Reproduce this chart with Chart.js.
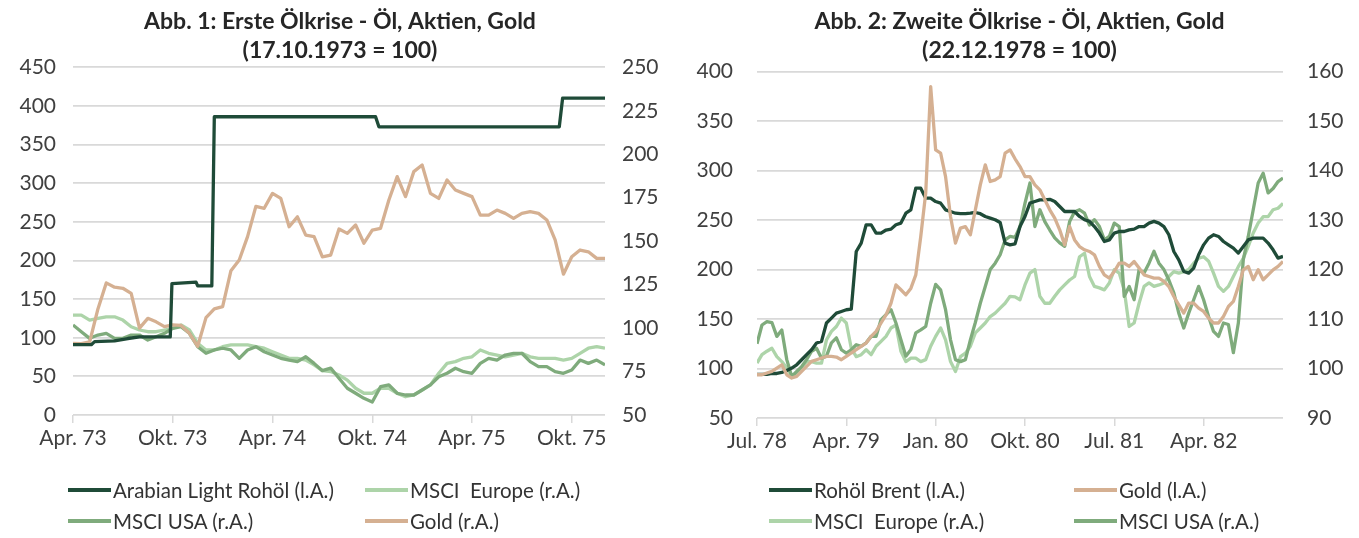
<!DOCTYPE html>
<html><head><meta charset="utf-8">
<script src="https://cdn.jsdelivr.net/npm/chart.js@4.4.1/dist/chart.umd.min.js"></script>
<style>
html,body{margin:0;padding:0;background:#fff;}
#wrap{position:relative;width:1359px;height:538px;overflow:hidden;font-family:Lato,'Noto Sans',sans-serif;}
.cbox{position:absolute;top:0;height:538px;}
.li{position:absolute;display:flex;align-items:center;white-space:nowrap;font-size:20.5px;color:#333;transform:translateY(-50%);}
.sw{display:inline-block;width:43px;height:4px;margin-right:2px;}
</style></head>
<body><div id="wrap">
<div class="cbox" style="left:0;width:680px"><canvas id="c1" width="680" height="538"></canvas></div>
<div class="cbox" style="left:680px;width:679px"><canvas id="c2" width="679" height="538"></canvas></div>
<div id="lg"></div>
</div>
<script>
// ---------- Chart 1: Erste Ölkrise (x = months since 1 Apr 1973) ----------
const title1 = ['Abb. 1: Erste Ölkrise - Öl, Aktien, Gold', '(17.10.1973 = 100)'];
const xTickPos1 = [0, 6, 12, 18, 24, 30];
const xTickLabels1 = ['Apr. 73', 'Okt. 73', 'Apr. 74', 'Okt. 74', 'Apr. 75', 'Okt. 75'];
const oilDates1 = [0, 1.1, 1.3, 2.5, 3.3, 4.0, 5.85, 5.95, 7.4, 7.5, 8.35, 8.5, 18.2, 18.4, 29.25, 29.45, 32];
const oil1 = [91, 91, 95, 96, 99, 101, 101, 170, 172, 167, 167, 386, 386, 373, 373, 410, 410];
const gold1 = [
  91.2, 91, 92, 111, 126, 123.5, 122.9, 120, 100, 105.6,
  103.6, 100.8, 101.8, 101.5, 97, 89.5, 106, 111, 112.3, 133,
  139.2, 152.6, 170, 168.9, 177.5, 174.6, 158.3, 164, 153.5, 152.6,
  141, 142, 157, 154.5, 159.3, 148.8, 156.4, 157.4, 173.7, 187.1,
  175.6, 190, 193.8, 177.5, 174.6, 185.2, 179.4, 177.5, 175.6, 165,
  165, 167.9, 166, 163.1, 166, 167, 166, 162.2, 150.7, 131,
  141, 144.9, 143.9, 140.1, 140.1];
const europe1 = [
  107.5, 107.5, 104.6, 105.6, 106.5, 106.5, 104.6, 100.8, 98.9, 97.9,
  97.9, 98.9, 99.9, 101.8, 98.9, 91.2, 87.4, 87.4, 89.3, 90.3,
  90.3, 90.3, 89.3, 88.4, 86.4, 84.5, 82.6, 82.6, 81.6, 78.8,
  75.5, 75, 73, 70.1, 65.4, 62.5, 62.5, 65.4, 65.4, 62.5,
  60.5, 61.5, 64.4, 67.3, 74, 79.7, 80.7, 82.6, 83.5, 87.4,
  85.5, 84.5, 83.5, 84.5, 85.5, 83.5, 82.6, 82.6, 82.6, 81.6,
  82.6, 85.5, 88.4, 89.3, 88.4];
const usa1 = [
  101.8, 97.9, 94.1, 96, 97, 94.1, 94.1, 96, 96, 93.1,
  95, 97, 99.9, 100.8, 97, 89.3, 85.5, 87.4, 88.4, 87.4,
  82.6, 87.4, 89.3, 86.4, 84.5, 82.6, 81.6, 80.7, 83.5, 79.7,
  75.5, 77, 71.1, 65.4, 62.5, 59.6, 57.5, 66.3, 67.3, 62.5,
  61.5, 61.5, 64.4, 67.3, 72, 74, 76.9, 74.9, 74, 79.7,
  82.6, 81.6, 84.5, 85.5, 85.5, 80.7, 77.8, 77.8, 74.9, 74,
  75.9, 81.6, 79.7, 81.6, 78.8];
const months1 = gold1.map((_, i) => i * 0.5);   // half-month observation grid

// ---------- Chart 2: Zweite Ölkrise (x = months since 1 Jul 1978) ----------
const title2 = ['Abb. 2: Zweite Ölkrise - Öl, Aktien, Gold', '(22.12.1978 = 100)'];
const xTickPos2 = [0, 9, 18, 27, 36, 45];
const xTickLabels2 = ['Jul. 78', 'Apr. 79', 'Jan. 80', 'Okt. 80', 'Jul. 81', 'Apr. 82'];
const brent2 = [
  94, 94, 94, 95, 95, 96, 98, 100.5, 103.8, 108.9,
  114, 119, 125.8, 127.4, 146, 151, 156, 157.7, 159.4, 160,
  218.3, 226.8, 245.3, 245.3, 236.9, 236.9, 240, 240.9, 245.3, 247,
  257, 260.4, 282.3, 282.3, 272.2, 272.2, 268.8, 267.2, 260.4, 258.7,
  257, 256.5, 256.5, 257, 257.7, 256.5, 253.7, 252, 250.4, 247.6,
  226.8, 225, 226, 243.5, 253.7, 267.2, 268.8, 270.5, 270.5, 271,
  268.8, 263.8, 258.7, 258.7, 258.7, 253.7, 250.4, 248.7, 243.5, 236.9,
  228.4, 230, 236.9, 238.5, 238.5, 240.2, 240.9, 243.5, 243.5, 247,
  248.7, 247, 243.5, 235.2, 218.3, 209.9, 198.1, 196.4, 201.5, 215,
  225, 231.8, 235.2, 233.5, 228.4, 225, 221.7, 216.7, 223.3, 230,
  231.8, 231.8, 231.8, 226.8, 220, 211.6, 213.3];
const gold2 = [
  93.7, 93.7, 95.5, 97.1, 100.5, 103.8, 93.7, 90.4, 92, 97.1,
  102.1, 107.2, 108.9, 110.6, 112.2, 112.2, 111.6, 108.9, 112.2, 115.7,
  119, 122.4, 125.8, 132.5, 137.5, 146, 154.3, 166, 184.6, 179.6,
  174.5, 181, 194.7, 233.4, 277.3, 385, 321, 317.7, 294, 253.7,
  226.8, 241.9, 243.5, 235.2, 260.4, 285.7, 305.9, 289, 290.7, 294,
  317.7, 321, 312, 304.1, 294, 294, 285.7, 280.6, 270.5, 260.4,
  252, 240.2, 225, 243.5, 230, 223.3, 220, 218.3, 215, 203.2,
  194.7, 191.4, 198.1, 206.6, 206.6, 203.2, 208.2, 201.5, 194.7, 193,
  191.4, 191.4, 188, 182.9, 172.8, 164.4, 156, 166.2, 166.2, 161.1,
  157.7, 151, 146, 146, 152.7, 162.7, 167.8, 182.9, 199.8, 203.2,
  189.7, 199.8, 189.7, 194.7, 199.8, 203.2, 208.2];
const europe2 = [
  101.1, 102.8, 103.5, 104.1, 102.4, 101.4, 100.1, 98.4, 99.1, 100.1,
  101.4, 101.4, 101.1, 101.1, 105.8, 107.5, 108.5, 110.2, 109.2, 104.1,
  102.4, 102.8, 103.8, 102.8, 104.5, 105.5, 106.5, 108.2, 108.8, 103.5,
  101.4, 102.1, 102.1, 101.4, 101.8, 104.5, 106.5, 108.2, 105.8, 101.4,
  99.4, 102.4, 103.1, 104.5, 107.2, 108.2, 109.2, 110.5, 111.2, 112.2,
  113.2, 114.6, 114.5, 113.9, 116.9, 119.3, 120, 114.6, 113.2, 113.2,
  114.6, 115.9, 116.9, 117.9, 118.6, 122.6, 123.3, 118.6, 116.6, 116.3,
  115.9, 117.3, 120, 119.3, 115.9, 108.5, 109.2, 113.2, 116.6, 117.3,
  116.6, 116.9, 117.3, 118.6, 119.6, 119.3, 119.6, 120, 121.3, 122.3,
  122.6, 121.7, 119.3, 116.6, 115.6, 116.6, 118.6, 120.6, 122.3, 124.7,
  127.4, 129.4, 130.7, 130.7, 132.1, 132.4, 133.4];
const usa2 = [
  105, 108.8, 109.5, 109.3, 106.5, 107.8, 101.8, 98.4, 99.4, 100.4,
  101.8, 103.5, 104.1, 102.1, 102.5, 105.2, 106.2, 103.8, 103.1, 103.8,
  104.8, 104.5, 105.2, 106.5, 106.5, 109.9, 110.9, 111.9, 109.2, 105.8,
  102.5, 103.8, 107.2, 107.8, 108.5, 113.2, 117, 115.9, 111.9, 105.8,
  101.8, 101.4, 101.8, 105.8, 109.3, 113.2, 116.6, 120, 121.3, 123,
  126, 126.7, 126.5, 128.7, 133.4, 137.5, 128.7, 132.1, 129.7, 128,
  126.4, 125.4, 124.7, 129.7, 131.7, 132.1, 131.4, 129, 130.1, 128.7,
  126, 126.7, 129.4, 128.7, 114.6, 116.6, 113.9, 120, 119.3, 121.3,
  123.7, 121.3, 120, 117.9, 115.3, 111.2, 108.2, 111.2, 113.9, 116.6,
  113.9, 110.5, 107.5, 106.5, 109.2, 108.9, 103.2, 109.2, 122, 126.7,
  132.1, 137.5, 139.5, 135.5, 136.4, 137.8, 138.5];
const months2 = brent2.map((_, i) => i * 0.5);

// ---------- styling ----------
const C_OIL = '#1f4b38', C_EU = '#add4a9', C_US = '#7fab7c', C_GOLD = '#d5b092';
const FONT = "Lato, 'Noto Sans', sans-serif";
const TICK = '#404040', GRID = '#d9d9d9';

const pts = (xs, ys) => ys.map((v, i) => ({x: xs[i], y: v}));
function ds(label, xs, ys, color, axis, order) {
  return {label, data: pts(xs, ys), borderColor: color, backgroundColor: color,
    borderWidth: 3.3, pointRadius: 0, tension: 0, yAxisID: axis, order, fill: false,
    borderJoinStyle: 'round', borderCapStyle: 'butt'};
}
function makeChart(id, cfg) {
  const tickFont = {family: FONT, size: 21};
  return new Chart(document.getElementById(id), {
    type: 'line',
    data: {datasets: cfg.datasets},
    options: {
      responsive: false, animation: false, devicePixelRatio: 1,
      layout: {padding: {left: 0, right: 0, top: 0, bottom: cfg.padBottom}},
      plugins: {
        legend: {display: false}, tooltip: {enabled: false},
        title: {display: true, text: cfg.title, color: '#262626',
          font: {family: FONT, size: 23, weight: 'bold', lineHeight: 1.22},
          padding: {top: 8, bottom: cfg.titlePadBottom}}
      },
      scales: {
        x: {type: 'linear', min: cfg.xMin, max: cfg.xMax,
          afterBuildTicks: s => { s.ticks = cfg.xTickPos.map(v => ({value: v})); },
          afterFit: s => { s.height = 40; },
          grid: {drawOnChartArea: false, drawTicks: true, tickLength: 8, color: GRID, lineWidth: 1.5},
          border: {display: false},
          ticks: {autoSkip: false, maxRotation: 0, padding: 3, color: TICK, font: tickFont,
            callback: v => cfg.xTickLabels[cfg.xTickPos.indexOf(v)]}},
        yL: {position: 'left', min: cfg.lMin, max: cfg.lMax,
          afterFit: s => { s.width = cfg.leftW; },
          grid: {color: GRID, lineWidth: 1.8, drawTicks: false},
          border: {display: false},
          ticks: {stepSize: cfg.lStep, padding: cfg.tickPad, color: TICK, font: tickFont}},
        yR: {position: 'right', min: cfg.rMin, max: cfg.rMax,
          afterFit: s => { s.width = cfg.rightW; },
          grid: {display: false, drawTicks: false},
          border: {display: false},
          ticks: {stepSize: cfg.rStep, padding: cfg.tickPad, color: TICK, font: tickFont}}
      }
    }
  });
}

const chart1 = makeChart('c1', {
  title: title1, titlePadBottom: 3.2, padBottom: 83,
  xMin: 0, xMax: 32, xTickPos: xTickPos1, xTickLabels: xTickLabels1,
  lMin: 0, lMax: 450, lStep: 50, rMin: 50, rMax: 250, rStep: 25,
  leftW: 73, rightW: 75, tickPad: 17,
  datasets: [
    ds('Arabian Light Rohöl (l.A.)', oilDates1, oil1, C_OIL, 'yL', 0),
    ds('MSCI  Europe (r.A.)', months1, europe1, C_EU, 'yR', 3),
    ds('MSCI USA (r.A.)', months1, usa1, C_US, 'yR', 2),
    ds('Gold (r.A.)', months1, gold1, C_GOLD, 'yR', 1)
  ]
});
const chart2 = makeChart('c2', {
  title: title2, titlePadBottom: 7.6, padBottom: 80,
  xMin: 0, xMax: 53, xTickPos: xTickPos2, xTickLabels: xTickLabels2,
  lMin: 50, lMax: 400, lStep: 50, rMin: 90, rMax: 160, rStep: 10,
  leftW: 77, rightW: 76, tickPad: 24,
  datasets: [
    ds('Rohöl Brent (l.A.)', months2, brent2, C_OIL, 'yL', 1),
    ds('Gold (l.A.)', months2, gold2, C_GOLD, 'yL', 0),
    ds('MSCI  Europe (r.A.)', months2, europe2, C_EU, 'yR', 3),
    ds('MSCI USA (r.A.)', months2, usa2, C_US, 'yR', 2)
  ]
});

// ---------- HTML legends (2 x 2 grid under each chart) ----------
const legendSlots1 = [[68, 490], [365, 490], [68, 521], [365, 521]];
const legendSlots2 = [[769, 490], [1074, 490], [769, 521], [1074, 521]];
function buildLegend(chart, slots) {
  const lg = document.getElementById('lg');
  chart.data.datasets.forEach((d, i) => {
    const el = document.createElement('div');
    el.className = 'li';
    el.style.left = slots[i][0] + 'px';
    el.style.top = slots[i][1] + 'px';
    const sw = document.createElement('span');
    sw.className = 'sw';
    sw.style.background = d.borderColor;
    const tx = document.createElement('span');
    tx.textContent = d.label;
    tx.style.whiteSpace = 'pre';
    el.appendChild(sw); el.appendChild(tx);
    lg.appendChild(el);
  });
}
buildLegend(chart1, legendSlots1);
buildLegend(chart2, legendSlots2);
</script>
</body></html>
